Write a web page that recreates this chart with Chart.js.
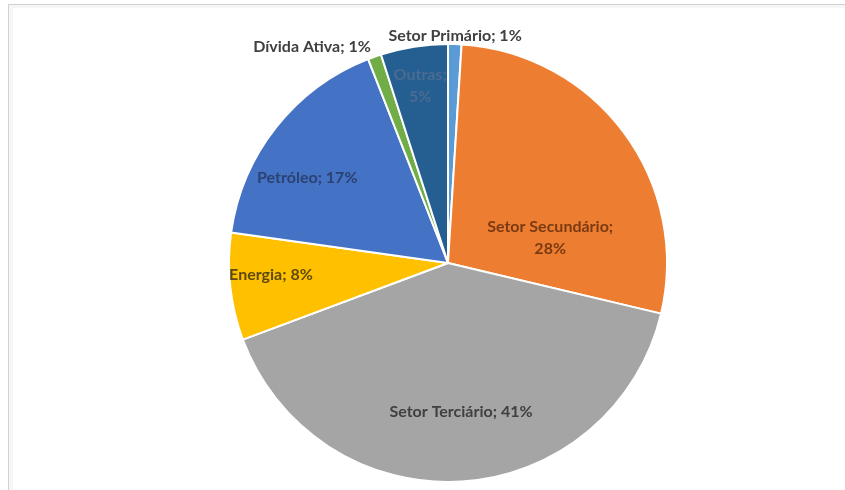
<!DOCTYPE html>
<html lang="pt-BR">
<head>
<meta charset="utf-8">
<script src="https://cdn.jsdelivr.net/npm/chart.js@4.4.1/dist/chart.umd.min.js"></script>
<style>
  html, body { margin: 0; padding: 0; background: #ffffff; overflow: hidden; }
  #wrap { position: relative; width: 845px; height: 490px; }
  #frame {
    position: absolute; left: 8px; top: 4px; width: 900px; height: 600px;
    border-left: 1px solid #d2d2d2; border-top: 1px solid #d2d2d2;
    box-shadow: inset 4px 3px 0 #f6f6f6;
  }
  #chart { position: absolute; left: 0; top: 0; }
</style>
</head>
<body>
<div id="wrap">
  <div id="frame"></div>
  <canvas id="chart" width="845" height="490"></canvas>
</div>
<script>
const setores = ["Setor Primário", "Setor Secundário", "Setor Terciário", "Energia", "Petróleo", "Dívida Ativa", "Outras"];
const participacao = [1, 28, 41, 8, 17, 1, 5];
const coresFatias = ["#5b9bd5", "#ed7d31", "#a5a5a5", "#ffc000", "#4472c4", "#70ad47", "#255e91"];
const coresRotulos = ["#404040", "#7a3a12", "#404040", "#5e4a0c", "#2b4272", "#404040", "#4a6b93"];

// posição de cada rótulo: fração ao longo da fatia, raio relativo, alinhamento, quebra de linha
const rotuloAoLongo = [0.5, 0.73, 0.49, 0.59, 0.38, 0.5, 0.5];
const rotuloRaio = [1.04, 0.48, 0.68, 0.81, 0.75, 1.05, 0.82];
const rotuloAlinhar = ["center", "center", "center", "center", "center", "right", "center"];
const rotuloQuebra = [false, true, false, false, false, false, true];

const FONTE = "bold 16px Lato, \"Liberation Sans\", sans-serif";

const rotulosFatias = {
  id: "rotulosFatias",
  afterDatasetsDraw(chart) {
    const ctx = chart.ctx;
    const meta = chart.getDatasetMeta(0);
    ctx.save();
    ctx.font = FONTE;
    ctx.textBaseline = "middle";
    meta.data.forEach((arc, i) => {
      const p = arc.getProps(["x", "y", "startAngle", "endAngle", "outerRadius"], true);
      const ang = p.startAngle + (p.endAngle - p.startAngle) * rotuloAoLongo[i];
      const r = p.outerRadius * rotuloRaio[i];
      const cx = p.x + Math.cos(ang) * r;
      const cy = p.y + Math.sin(ang) * r;
      const linhas = rotuloQuebra[i]
        ? [setores[i] + ";", participacao[i] + "%"]
        : [setores[i] + "; " + participacao[i] + "%"];
      const alturaLinha = 22;
      ctx.fillStyle = coresRotulos[i];
      ctx.textAlign = rotuloAlinhar[i];
      linhas.forEach((t, k) => {
        const dy = (k - (linhas.length - 1) / 2) * alturaLinha;
        ctx.fillText(t, cx, cy + dy);
      });
    });
    ctx.restore();
  }
};

new Chart(document.getElementById("chart"), {
  type: "pie",
  data: {
    labels: setores,
    datasets: [{
      data: participacao,
      backgroundColor: coresFatias,
      borderColor: "#ffffff",
      borderWidth: 2
    }]
  },
  options: {
    responsive: false,
    animation: false,
    layout: { padding: { top: 43, bottom: 7, left: 51, right: 0 } },
    plugins: {
      legend: { display: false },
      tooltip: { enabled: false }
    }
  },
  plugins: [rotulosFatias]
});
</script>
</body>
</html>
